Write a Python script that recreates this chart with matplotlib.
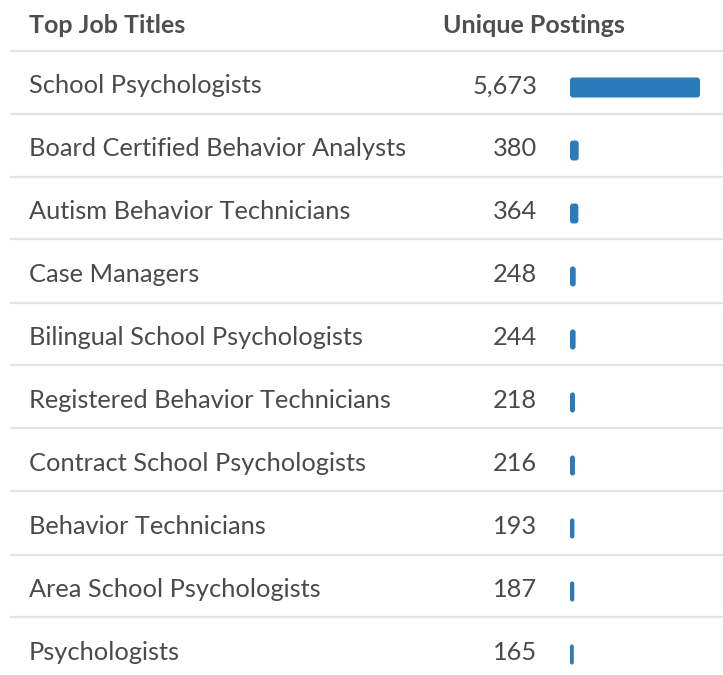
import matplotlib
matplotlib.use("Agg")
import matplotlib.pyplot as plt
from matplotlib.patches import FancyBboxPatch

titles = ["School Psychologists", "Board Certified Behavior Analysts",
          "Autism Behavior Technicians", "Case Managers",
          "Bilingual School Psychologists", "Registered Behavior Technicians",
          "Contract School Psychologists", "Behavior Technicians",
          "Area School Psychologists", "Psychologists"]
postings = [5673, 380, 364, 248, 244, 218, 216, 193, 187, 165]
headers = ["Top Job Titles", "Unique Postings"]

W, H = 723, 675
fig = plt.figure(figsize=(W / 100, H / 100), dpi=100)
plt.rcParams['font.family'] = ['Lato', 'DejaVu Sans']

row0 = 82.0   # pixel y of first row center
step = 63.0
ytop = -row0 / step
ybot = (H - row0) / step

ax = fig.add_axes([0, 0, 1, 1])
ax.set_xlim(0, W)
ax.set_ylim(ybot, ytop)
ax.axis('off')

txt = '#4a4a4a'
fs = 18.3
for i, (t, v) in enumerate(zip(titles, postings)):
    ax.text(29, i + 11.3 / step, t, fontsize=fs, color=txt, va='baseline', ha='left')
    ax.text(537, i + 11.3 / step, f"{v:,}", fontsize=fs, color=txt, va='baseline', ha='right')
    ax.plot([10, W], [i - 0.5, i - 0.5], color='#e3e3e3', lw=1.6, solid_capstyle='butt')

ax.text(29, -49 / step, headers[0], fontsize=18, color='#4e4e4e', va='baseline', ha='left', fontweight='bold')
ax.text(625, -49 / step, headers[1], fontsize=18, color='#4e4e4e', va='baseline', ha='right', fontweight='bold')

# bar axes
bx = fig.add_axes([570 / W, 0, 130 / W, 1])
bx.set_xlim(0, max(postings))
bx.set_ylim(ybot, ytop)
bx.axis('off')
ypos = [i + 5.5 / step for i in range(len(postings))]
bars = bx.barh(ypos, postings, height=20 / step, color='#2b7bba', linewidth=0)

# replace rectangles with rounded ones (radius in pixels)
px_per_x = bx.bbox.width / (bx.get_xlim()[1] - bx.get_xlim()[0])
px_per_y = bx.bbox.height / abs(bx.get_ylim()[1] - bx.get_ylim()[0])
R = 3.0
for rect in bars.patches:
    x0, y0 = rect.get_x(), rect.get_y()
    w, h = rect.get_width(), rect.get_height()
    r_px = min(R, w * px_per_x / 2)
    rect.set_visible(False)
    p = FancyBboxPatch((x0, y0), w, h,
                       boxstyle=f"round,pad=0,rounding_size={r_px / px_per_x}",
                       mutation_aspect=px_per_x / px_per_y,
                       facecolor='#2b7bba', edgecolor='none')
    bx.add_patch(p)

fig.savefig('out.png', dpi=100)
